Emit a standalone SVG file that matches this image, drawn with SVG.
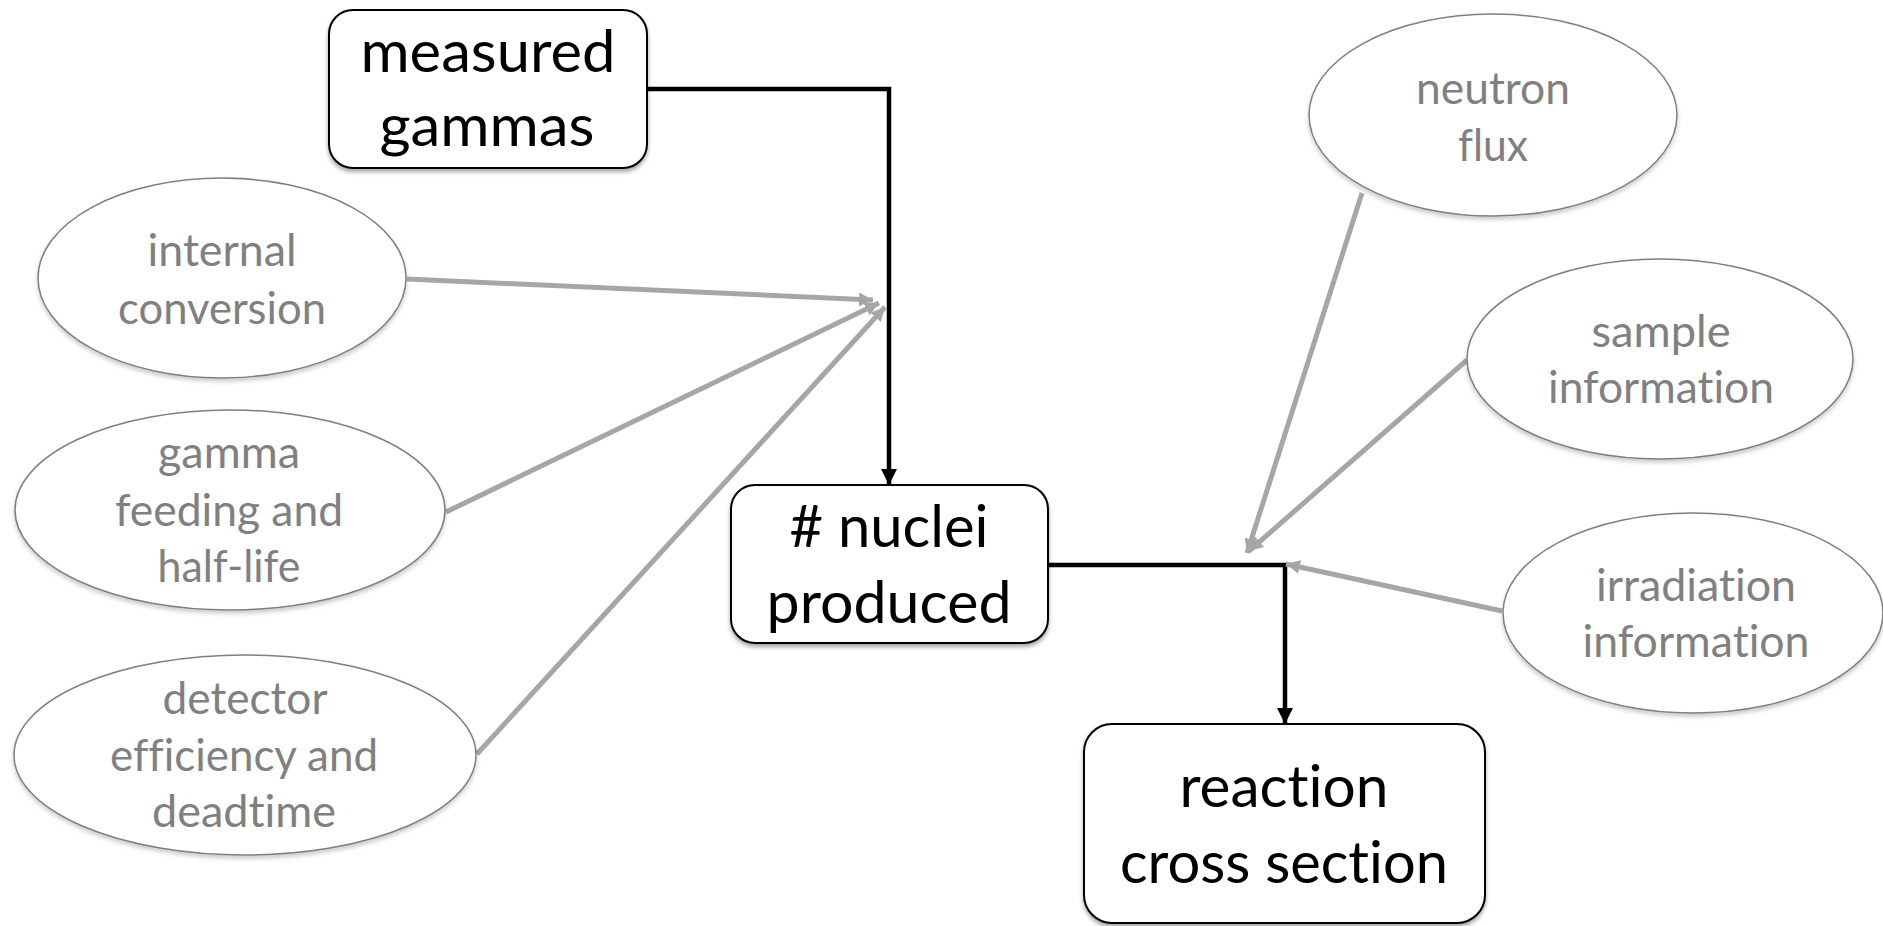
<svg xmlns="http://www.w3.org/2000/svg" width="1883" height="926" viewBox="0 0 1883 926">
<style>
.box{fill:#fff;stroke:#000;stroke-width:2;filter:url(#sh)}
.ell{fill:#fff;stroke:#7f7f7f;stroke-width:1.5;filter:url(#sh2)}
.bt{font-family:Lato,"Open Sans","Liberation Sans",sans-serif;font-size:58px;fill:#000;text-anchor:middle;font-variant-ligatures:none;font-feature-settings:"liga" 0,"dlig" 0,"clig" 0}
.gt{font-family:Lato,"Open Sans","Liberation Sans",sans-serif;font-size:45px;fill:#808080;text-anchor:middle;font-variant-ligatures:none;font-feature-settings:"liga" 0,"dlig" 0,"clig" 0}
.blk{fill:none;stroke:#000;stroke-width:4.5;marker-end:url(#ab)}
.gry{fill:none;stroke:#a6a6a6;stroke-width:5;marker-end:url(#ag)}
</style>
<defs>
<filter id="sh" x="-10%" y="-10%" width="120%" height="130%"><feDropShadow dx="0" dy="3" stdDeviation="2" flood-color="#000" flood-opacity="0.35"/></filter>
<filter id="sh2" x="-10%" y="-10%" width="120%" height="130%"><feDropShadow dx="0" dy="3" stdDeviation="2" flood-color="#000" flood-opacity="0.2"/></filter>
<marker id="ab" markerUnits="userSpaceOnUse" viewBox="0 0 16 16" refX="16" refY="8" markerWidth="16" markerHeight="16" orient="auto"><path d="M0,0 L16,8 L0,16 Z" fill="#000"/></marker>
<marker id="ag" markerUnits="userSpaceOnUse" viewBox="0 0 14 14" refX="14" refY="7" markerWidth="14" markerHeight="14" orient="auto"><path d="M0,0 L14,7 L0,14 Z" fill="#a6a6a6"/></marker>
</defs>
<rect width="1883" height="926" fill="#fff"/>
<g id="connectors">
<path class="blk" d="M647,89 H889 V485"/>
<path class="blk" d="M1048,565 H1285 V724"/>
<path class="gry" d="M407,279 L873,300"/>
<path class="gry" d="M446,512 L879,303"/>
<path class="gry" d="M477,754 L885,307"/>
<path class="gry" d="M1362,193 L1247,553"/>
<path class="gry" d="M1467,360 L1249,551"/>
<path class="gry" d="M1502,611 L1286,564"/>
</g>
<g id="measured-gammas">
<rect class="box" x="329" y="10" width="318" height="158" rx="24"/>
<text class="bt" x="488" y="72" textLength="255" lengthAdjust="spacingAndGlyphs">measured</text>
<text class="bt" x="487" y="146" textLength="215" lengthAdjust="spacingAndGlyphs">gammas</text>
</g>
<g id="nuclei-produced">
<rect class="box" x="731" y="485" width="317" height="158" rx="24"/>
<text class="bt" x="889" y="547" textLength="199" lengthAdjust="spacingAndGlyphs"># nuclei</text>
<text class="bt" x="889" y="623" textLength="245" lengthAdjust="spacingAndGlyphs">produced</text>
</g>
<g id="reaction-cross-section">
<rect class="box" x="1084" y="724" width="401" height="199" rx="28"/>
<text class="bt" x="1284" y="807" textLength="209" lengthAdjust="spacingAndGlyphs">reaction</text>
<text class="bt" x="1284" y="883" textLength="328" lengthAdjust="spacingAndGlyphs">cross section</text>
</g>
<g id="internal-conversion">
<ellipse class="ell" cx="222" cy="278" rx="184" ry="100"/>
<text class="gt" x="222" y="266" textLength="149" lengthAdjust="spacingAndGlyphs">internal</text>
<text class="gt" x="222" y="324" textLength="208" lengthAdjust="spacingAndGlyphs">conversion</text>
</g>
<g id="gamma-feeding">
<ellipse class="ell" cx="230" cy="510" rx="215" ry="100"/>
<text class="gt" x="229" y="468" textLength="142" lengthAdjust="spacingAndGlyphs">gamma</text>
<text class="gt" x="229" y="526" textLength="228" lengthAdjust="spacingAndGlyphs">feeding and</text>
<text class="gt" x="229" y="582" textLength="143" lengthAdjust="spacingAndGlyphs">half-life</text>
</g>
<g id="detector-efficiency">
<ellipse class="ell" cx="245" cy="755" rx="231" ry="100"/>
<text class="gt" x="245" y="714" textLength="165" lengthAdjust="spacingAndGlyphs">detector</text>
<text class="gt" x="244" y="771" textLength="268" lengthAdjust="spacingAndGlyphs">efficiency and</text>
<text class="gt" x="244" y="827" textLength="184" lengthAdjust="spacingAndGlyphs">deadtime</text>
</g>
<g id="neutron-flux">
<ellipse class="ell" cx="1493" cy="115" rx="184" ry="101"/>
<text class="gt" x="1493" y="104" textLength="154" lengthAdjust="spacingAndGlyphs">neutron</text>
<text class="gt" x="1493" y="161" textLength="70" lengthAdjust="spacingAndGlyphs">flux</text>
</g>
<g id="sample-information">
<ellipse class="ell" cx="1660" cy="359" rx="193" ry="100"/>
<text class="gt" x="1661" y="347" textLength="139" lengthAdjust="spacingAndGlyphs">sample</text>
<text class="gt" x="1661" y="403" textLength="226" lengthAdjust="spacingAndGlyphs">information</text>
</g>
<g id="irradiation-information">
<ellipse class="ell" cx="1693" cy="613" rx="190" ry="100"/>
<text class="gt" x="1696" y="601" textLength="200" lengthAdjust="spacingAndGlyphs">irradiation</text>
<text class="gt" x="1696" y="657" textLength="227" lengthAdjust="spacingAndGlyphs">information</text>
</g>
</svg>
